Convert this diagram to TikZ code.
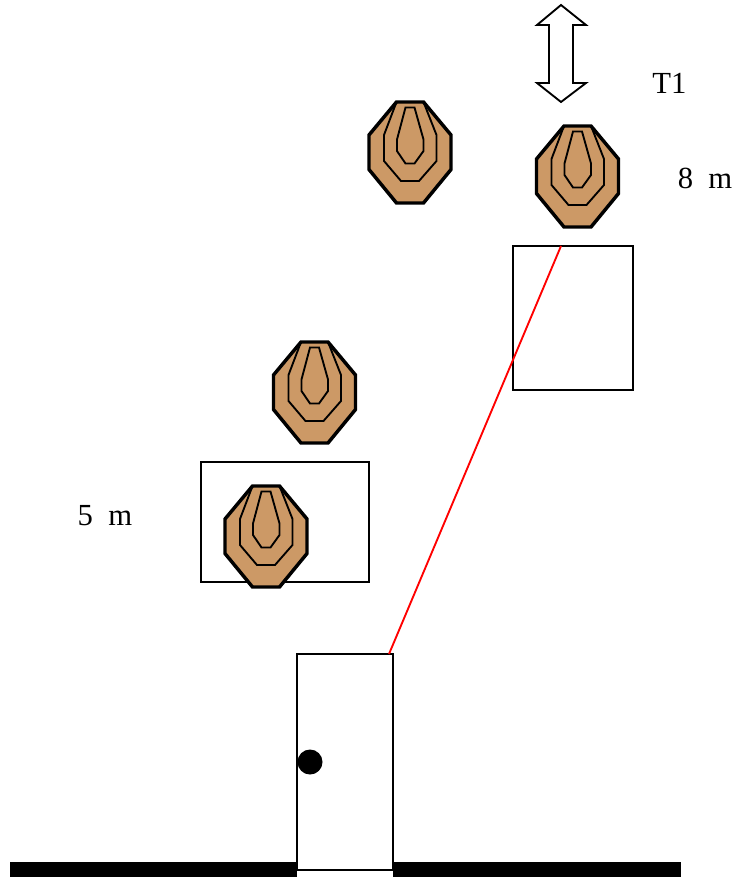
\documentclass[tikz,border=0pt]{standalone}
\usepackage{fontspec}
\setmainfont{Liberation Serif}
\definecolor{targetbrown}{HTML}{CC9966}
\tikzset{
  thinbox/.style={draw=black,line width=1.4pt,fill=none},
  label/.style={font=\fontsize{23}{26}\selectfont,inner sep=0pt},
  target/.pic={
    \draw[fill=targetbrown,line width=2.6pt,miter limit=2] (-13.5,-50.5) -- (13.5,-50.5) -- (41,-17.5) -- (41,17) -- (13.5,50.5) -- (-13.5,50.5) -- (-41,17) -- (-41,-17.5) -- cycle;
    \draw[line width=1.4pt] (-13.5,-50.5) -- (-26,-17.5) -- (-26,8.5) -- (-9,28.5) -- (9,28.5) -- (26.5,8.5) -- (26.5,-17.5) -- (13.5,-50.5);
    \draw[line width=1.4pt] (-4.5,-45) -- (4.5,-45) -- (13.5,-13) -- (13.5,-1.5) -- (4.5,11) -- (-4.5,11) -- (-13,-1.5) -- (-13,-13) -- cycle;
  }
}
\begin{document}
\begin{tikzpicture}[x=0.75pt,y=-0.75pt]
\useasboundingbox (0,0) rectangle (736,877);
% wall
\fill (10,862) rectangle (297,877);
\fill (393,862) rectangle (681,877);
% door
\draw[thinbox,fill=white] (297,654) rectangle (393,870);
\fill (310,762) circle [radius=12.5];
% boxes
\draw[thinbox] (513,246) rectangle (633,390);
\draw[thinbox] (201,462) rectangle (369,582);
% line of fire
\coordinate (doorcorner) at (389,654);
\coordinate (boxtop) at (561,246);
\draw[red,line width=1.4pt] (doorcorner) -- (boxtop);
% targets
\pic at (577.5,176.5) {target};
\pic at (410,152.5) {target};
\pic at (314.5,392.5) {target};
\pic at (266,536.5) {target};
% movement
\draw[line width=1.4pt,fill=white] (561,5) -- (586,25) -- (573,25) -- (573,83) -- (586,83) -- (561,102) -- (537,83) -- (549,83) -- (549,25) -- (537,25) -- cycle;
% labels
\node[label] (tone) at (669.5,83) {T1};
\node[label] (eight) at (705,178) {8\ \ m};
\node[label] (five) at (105,516) {5\ \ m};
\end{tikzpicture}
\end{document}
